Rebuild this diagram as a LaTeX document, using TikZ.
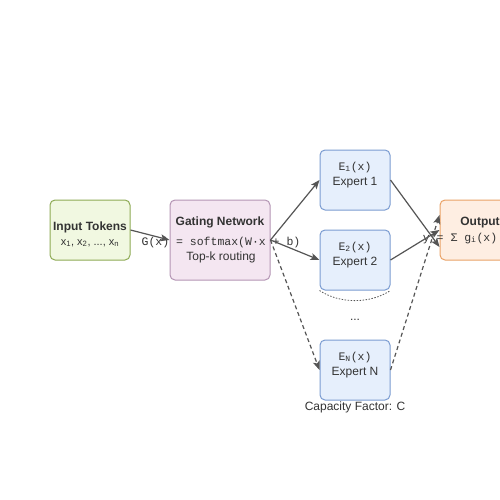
\documentclass[tikz,border=0pt]{standalone}
\usepackage{fontspec}
\setmainfont{Liberation Sans}
\setmonofont{Liberation Mono}
\usetikzlibrary{arrows.meta}
\definecolor{txt}{HTML}{333333}
\definecolor{edge}{HTML}{555555}
\definecolor{inFill}{HTML}{F1F8E1}
\definecolor{inDraw}{HTML}{8EAB55}
\definecolor{gFill}{HTML}{F4E6F1}
\definecolor{gDraw}{HTML}{B495B4}
\definecolor{eFill}{HTML}{E6EFFC}
\definecolor{eDraw}{HTML}{7B9CD1}
\definecolor{oFill}{HTML}{FEEEE2}
\definecolor{oDraw}{HTML}{EAA266}
\tikzset{
  box/.style={rounded corners=5pt, line width=1pt, inner sep=0pt},
  lbl/.style={text=txt, inner sep=0pt, anchor=base},
  bold/.style={lbl, font=\fontsize{12}{14}\selectfont\bfseries},
  plain/.style={lbl, font=\fontsize{12}{14}\selectfont},
  small/.style={lbl, font=\fontsize{11}{13}\selectfont},
  mono/.style={lbl, font=\fontsize{11.5}{13}\selectfont\ttfamily},
  arr/.style={draw=edge, line width=1.2pt, -{Stealth[length=9pt,width=7pt,inset=2pt]}},
  dsh/.style={arr, dash pattern=on 4pt off 3pt},
}
\begin{document}
\begin{tikzpicture}[x=1pt,y=-1pt]
\clip (0,0) rectangle (500,500);
\fill[white] (0,0) rectangle (500,500);

% boxes
\node[box, fill=inFill, draw=inDraw, minimum width=80pt, minimum height=60pt] (inp) at (90,230) {};
\node[box, fill=gFill, draw=gDraw, minimum width=100pt, minimum height=80pt] (gate) at (220,240) {};
\node[box, fill=eFill, draw=eDraw, minimum width=70pt, minimum height=60pt] (e1) at (355,180) {};
\node[box, fill=eFill, draw=eDraw, minimum width=70pt, minimum height=60pt] (e2) at (355,260) {};
\node[box, fill=eFill, draw=eDraw, minimum width=70pt, minimum height=60pt] (eN) at (355,370) {};
\node[box, fill=oFill, draw=oDraw, minimum width=80pt, minimum height=60pt] (out) at (480,230) {};

% texts
\node[bold] (inpT) at (90,230) {Input Tokens};
\node[small] (inpX) at (90,245) {x\textsubscript{1}, x\textsubscript{2}, ..., x\textsubscript{n}};
\node[bold] (gateT) at (220,225) {Gating Network};
\node[mono] (gateF) at (221,245) {G(x) = softmax(W·x + b)};
\node[plain] (gateR) at (221,260) {Top-k routing};
\node[mono] (e1F) at (355,170) {E\textsubscript{1}(x)};
\node[plain] (e1T) at (355,185) {Expert 1};
\node[mono] (e2F) at (355,250) {E\textsubscript{2}(x)};
\node[plain] (e2T) at (355,265) {Expert 2};
\node[mono] (eNF) at (355,360) {E\textsubscript{N}(x)};
\node[plain] (eNT) at (355,375) {Expert N};
\node[bold] (outT) at (480,225) {Output};
\node[mono] (outF) at (480,241) {y = Σ g\textsubscript{i}(x)·E\textsubscript{i}(x)};
\node[plain] (dots) at (355,320) {...};
\node[plain] (cap) at (355,410) {Capacity Factor: C};

% connectors
\draw[arr] (inp.east) -- (gate.west);
\draw[arr] (gate.east) -- (e1.west);
\draw[arr] (gate.east) -- (e2.west);
\draw[dsh] (gate.east) -- (eN.west);
\coordinate (o1) at ([yshift=-17pt]out.west);
\coordinate (o3) at ([yshift=15pt]out.west);
\draw[arr] (e1.east) -- (o1);
\draw[arr] (e2.east) -- (out.west);
\draw[dsh] (eN.east) -- (o3);
\draw[edge, line width=0.8pt, dash pattern=on 1.5pt off 1.5pt] (e2.south west) .. controls (340,304) and (370,304) .. (e2.south east);
\end{tikzpicture}
\end{document}
